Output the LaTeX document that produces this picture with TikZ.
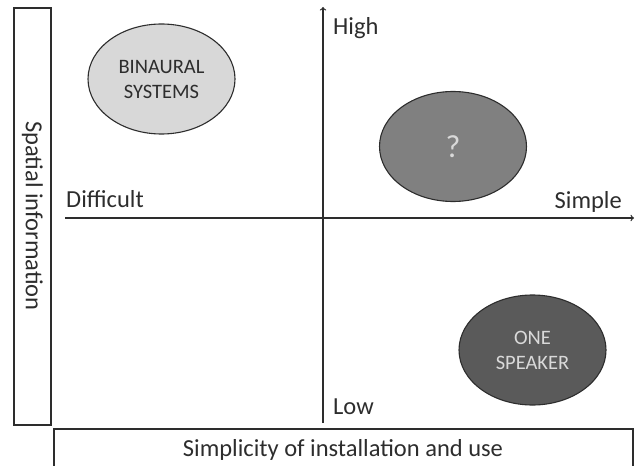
\documentclass[tikz,border=0pt]{standalone}
\usepackage{fontspec}
\setmainfont{Carlito}
\usetikzlibrary{shapes.geometric}
\definecolor{ink}{RGB}{45,45,45}
\definecolor{lightfill}{RGB}{216,216,216}
\definecolor{midfill}{RGB}{128,128,128}
\definecolor{darkfill}{RGB}{90,90,90}
\tikzset{
  blob/.style={ellipse, draw=ink, line width=1.1pt, minimum width=147pt, minimum height=110pt,
    inner sep=0pt, align=center, font=\fontsize{20.5}{25}\selectfont},
  lbl/.style={text=ink, inner sep=0pt, font=\fontsize{24.5}{29}\selectfont},
  frame/.style={draw=ink, line width=1.1pt}
}
\begin{document}
\begin{tikzpicture}[x=1pt, y=-1pt]
    \useasboundingbox (0,0) rectangle (636,465) ;
    \def\Ox{323}
    \def\Oy{218}
    \draw [frame] (14,8) rectangle (51,425) ;
    \draw [frame] (54,429) rectangle (633,470) ;
    \node [lbl, rotate=-90] (spatial) at (32.5,216) {Spatial information} ;
    \node [lbl, anchor=base] (simplicity) at (343,456) {Simplicity of installation and use} ;
    \coordinate (west) at (65,\Oy) ;
    \coordinate (east) at (634,\Oy) ;
    \coordinate (south) at (\Ox,423) ;
    \coordinate (north) at (\Ox,7) ;
    \draw [ink, line width=1.3pt, ->] (west) -- (east) ;
    \draw [ink, line width=1.3pt, ->] (south) -- (north) ;
    \node [lbl, anchor=base west] (difficult) at (66,207) {Difficult} ;
    \node [lbl, anchor=base east] (simple) at (622,208) {Simple} ;
    \node [lbl, anchor=base west] (high) at (333,35) {High} ;
    \node [lbl, anchor=base west] (low) at (333,414) {Low} ;
    \node [blob, fill=lightfill, text=ink] (binaural) at (161.5,79) {BINAURAL\\SYSTEMS} ;
    \node [blob, fill=midfill, text=white!85!black] (unknown) at (453,146.5) {\fontsize{32}{36}\selectfont ?} ;
    \node [blob, fill=darkfill, text=white!85!black] (speaker) at (532.5,350) {ONE\\SPEAKER} ;
  \end{tikzpicture}
\end{document}
